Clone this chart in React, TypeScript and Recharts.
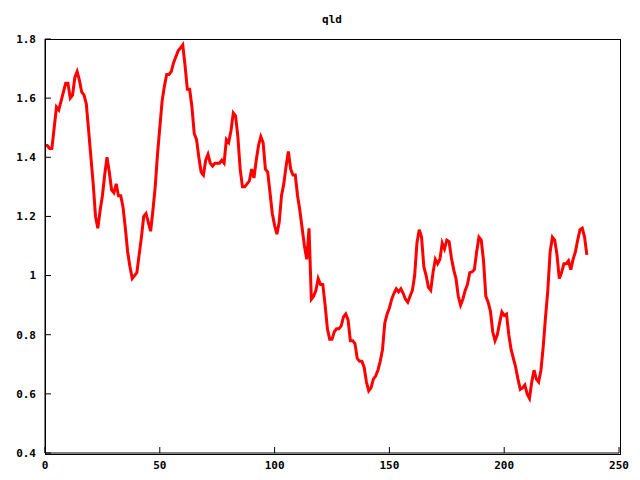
import { LineChart, Line, XAxis, YAxis } from "recharts";

const values = [
  1.44, 1.44, 1.43, 1.43, 1.5, 1.57, 1.56, 1.59, 1.62, 1.65,
  1.65, 1.6, 1.61, 1.67, 1.69, 1.66, 1.62, 1.61, 1.58, 1.49,
  1.4, 1.31, 1.2, 1.16, 1.22, 1.27, 1.34, 1.4, 1.35, 1.29,
  1.28, 1.31, 1.27, 1.27, 1.23, 1.16, 1.08, 1.03, 0.99, 1.0,
  1.01, 1.07, 1.13, 1.2, 1.21, 1.18, 1.15, 1.22, 1.3, 1.41,
  1.5, 1.59, 1.64, 1.68, 1.68, 1.69, 1.72, 1.74, 1.76, 1.77,
  1.78, 1.71, 1.63, 1.63, 1.57, 1.48, 1.46, 1.4, 1.35, 1.34,
  1.39, 1.41, 1.38, 1.37, 1.38, 1.38, 1.38, 1.39, 1.38, 1.46,
  1.45, 1.49, 1.55, 1.54, 1.47, 1.36, 1.3, 1.3, 1.31, 1.32,
  1.36, 1.33, 1.39, 1.44, 1.47, 1.45, 1.36, 1.35, 1.28, 1.21,
  1.17, 1.14, 1.18, 1.27, 1.31, 1.37, 1.42, 1.36, 1.34, 1.34,
  1.27, 1.22, 1.16, 1.1, 1.055, 1.16, 0.92, 0.93, 0.95, 0.99,
  0.97, 0.97, 0.9, 0.82, 0.785, 0.785, 0.81, 0.82, 0.82, 0.83,
  0.86, 0.87, 0.85, 0.78, 0.78, 0.77, 0.72, 0.71, 0.71, 0.69,
  0.64, 0.61, 0.62, 0.65, 0.66, 0.68, 0.71, 0.75, 0.84, 0.87,
  0.89, 0.92, 0.94, 0.955, 0.945, 0.955, 0.94, 0.92, 0.91, 0.93,
  0.95, 1.0, 1.11, 1.155, 1.13, 1.03, 1.0, 0.96, 0.95, 1.01,
  1.055, 1.04, 1.055, 1.11, 1.09, 1.12, 1.115, 1.06, 1.02, 0.99,
  0.93, 0.9, 0.92, 0.95, 0.97, 1.01, 1.012, 1.02, 1.08, 1.13,
  1.12, 1.05, 0.93, 0.91, 0.88, 0.81, 0.78, 0.8, 0.84, 0.877,
  0.865, 0.87, 0.8, 0.75, 0.72, 0.69, 0.65, 0.615, 0.62, 0.63,
  0.6, 0.585, 0.64, 0.68, 0.65, 0.64, 0.68, 0.76, 0.86, 0.95,
  1.08, 1.13, 1.12, 1.07, 0.99, 1.01, 1.04, 1.04, 1.05, 1.02,
  1.055, 1.08, 1.12, 1.155, 1.16, 1.13, 1.07,
];

const xTicks = [0, 50, 100, 150, 200, 250];
const yTicks = [0.4, 0.6, 0.8, 1, 1.2, 1.4, 1.6, 1.8];

const data = values.map((v, i) => ({ x: i, qld: v }));

const font = "'DejaVu Sans Mono', monospace";
const tickStyle = { fontSize: 11, fontFamily: font, fontWeight: "bold", fill: "#000" };
const axisLine = { stroke: "#000", strokeWidth: 1 };

export default function App() {
  return (
    <div style={{ position: "absolute", left: 0, top: 0, width: 640, height: 480, background: "#fff" }}>
      <div
        style={{
          position: "absolute",
          left: 0,
          width: 664,
          top: 13,
          lineHeight: "13px",
          textAlign: "center",
          fontFamily: font,
          fontWeight: "bold",
          fontSize: 11,
          color: "#000",
        }}
      >
        qld
      </div>
      <LineChart width={640} height={480} data={data} margin={{ top: 39, right: 21, bottom: 0, left: 0 }}>
        {/* negative tickSize -> ticks point inward like gnuplot */}
        <XAxis
          dataKey="x"
          type="number"
          domain={[0, 250]}
          ticks={xTicks}
          tickSize={-6}
          tickMargin={14}
          height={27}
          axisLine={axisLine}
          tickLine={axisLine}
          tick={tickStyle}
          interval={0}
        />
        <XAxis
          xAxisId="top"
          dataKey="x"
          type="number"
          orientation="top"
          domain={[0, 250]}
          ticks={xTicks}
          tickSize={-6}
          height={0}
          axisLine={axisLine}
          tickLine={axisLine}
          tick={false}
        />
        <YAxis
          type="number"
          domain={[0.4, 1.8]}
          ticks={yTicks}
          tickSize={-6}
          tickMargin={15}
          width={45}
          axisLine={axisLine}
          tickLine={axisLine}
          tick={tickStyle}
          interval={0}
        />
        <YAxis
          yAxisId="right"
          type="number"
          orientation="right"
          domain={[0.4, 1.8]}
          ticks={yTicks}
          tickSize={-6}
          width={0}
          axisLine={axisLine}
          tickLine={axisLine}
          tick={false}
        />
        <Line
          xAxisId="top"
          yAxisId="right"
          dataKey="qld"
          stroke="none"
          dot={false}
          legendType="none"
          isAnimationActive={false}
        />
        <Line
          dataKey="qld"
          type="linear"
          stroke="#ff0000"
          strokeWidth={3}
          dot={false}
          isAnimationActive={false}
        />
      </LineChart>
      {/* plot frame */}
      <div
        style={{
          position: "absolute",
          left: 45,
          top: 39,
          width: 574,
          height: 414,
          border: "1px solid #000",
          pointerEvents: "none",
        }}
      />
    </div>
  );
}
